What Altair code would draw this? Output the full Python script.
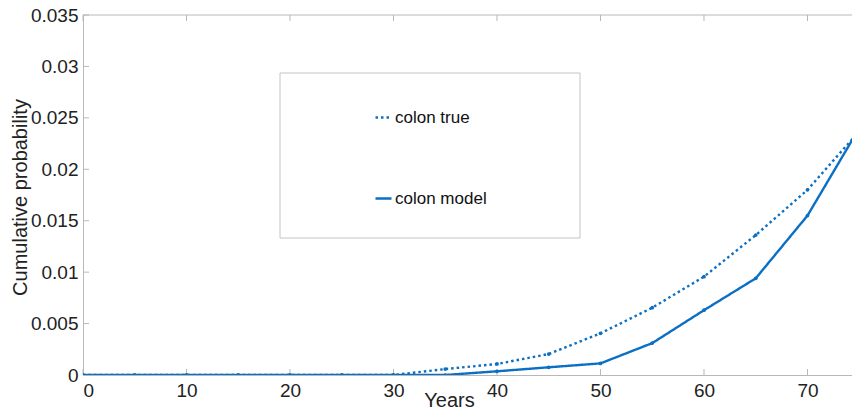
import altair as alt
import pandas as pd

years = [0, 5, 10, 15, 20, 25, 30, 35, 40, 45, 50, 55, 60, 65, 70, 75]
colon_true = [0, 0, 0, 0, 0, 0, 0, 0.00058, 0.00107, 0.00204, 0.00405, 0.00654, 0.00956, 0.0136, 0.018, 0.0237]
colon_model = [0, 0, 0, 0, 0, 0, 0, 0.0, 0.00036, 0.00075, 0.00113, 0.0031, 0.0063, 0.0094, 0.0155, 0.0240]
series_names = ["colon true", "colon model"]
x_ticks = [0, 10, 20, 30, 40, 50, 60, 70]
y_ticks = [0, 0.005, 0.01, 0.015, 0.02, 0.025, 0.03, 0.035]

BLUE = "#0b6fc4"
GRAY = "#b8b8b8"
FONT = "Liberation Sans"
W, H = 769, 360

rows = []
for x, t, m in zip(years, colon_true, colon_model):
    rows.append({"year": x, "p": t, "series": series_names[0]})
    rows.append({"year": x, "p": m, "series": series_names[1]})
df = pd.DataFrame(rows)

xs = alt.Scale(domain=[0, 74.3], nice=False, zero=False)
ys = alt.Scale(domain=[0, 0.035], nice=False)

box = alt.Chart(pd.DataFrame({"a": [0]})).mark_rect(
    fill="white", stroke="#c4c4c4", strokeWidth=1
).encode(x=alt.value(197), x2=alt.value(497), y=alt.value(58), y2=alt.value(223))

lines = alt.Chart(df).mark_line(color=BLUE, strokeWidth=2.4, clip=True, strokeCap="butt").encode(
    x=alt.X("year:Q", scale=xs,
            axis=alt.Axis(values=x_ticks, title="Years", grid=False, ticks=False,
                          labelPadding=6, titleX=366, titleY=25, titleBaseline="middle",
                          titleAlign="center")),
    y=alt.Y("p:Q", scale=ys,
            axis=alt.Axis(values=y_ticks, format="~g", title="Cumulative probability",
                          grid=False, ticks=False, labelPadding=5,
                          titleX=-63, titleY=182, titleAlign="center", titleBaseline="middle")),
    strokeDash=alt.StrokeDash(
        "series:N",
        scale=alt.Scale(domain=series_names, range=[[2.5, 3], [1, 0]]),
        sort=series_names,
        legend=alt.Legend(
            title=None, orient="none", legendX=291, legendY=93,
            symbolType="stroke", symbolSize=256, symbolStrokeWidth=2.4,
            symbolStrokeColor=BLUE, labelFontSize=17, labelFont=FONT,
            labelColor="#111111", rowPadding=63, labelOffset=2,
        ),
    ),
    detail="series:N",
)

points = alt.Chart(df).mark_point(filled=True, color=BLUE, size=14, opacity=1, clip=True).encode(
    x=alt.X("year:Q", scale=xs),
    y=alt.Y("p:Q", scale=ys),
)

xt = pd.DataFrame({"v": x_ticks})
yt = pd.DataFrame({"v": y_ticks})
bottom_ticks = alt.Chart(xt).mark_rule(color=GRAY, strokeWidth=1).encode(
    x=alt.X("v:Q", scale=xs), y=alt.value(H), y2=alt.value(H - 6))
top_ticks = alt.Chart(xt).mark_rule(color=GRAY, strokeWidth=1).encode(
    x=alt.X("v:Q", scale=xs), y=alt.value(0), y2=alt.value(6))
left_ticks = alt.Chart(yt).mark_rule(color=GRAY, strokeWidth=1).encode(
    y=alt.Y("v:Q", scale=ys), x=alt.value(0), x2=alt.value(6))
top_line = alt.Chart(pd.DataFrame({"a": [0]})).mark_rule(color=GRAY, strokeWidth=1).encode(
    x=alt.value(0), x2=alt.value(W), y=alt.value(0))

chart = alt.layer(box, bottom_ticks, top_ticks, left_ticks, top_line, lines, points).properties(
    width=W, height=H,
    autosize=alt.AutoSizeParams(type="none"),
    padding={"left": 83, "top": 15, "right": 0, "bottom": 35},
    background="white",
).configure_view(stroke=None).configure_axis(
    domainColor=GRAY, domainWidth=1, labelFont=FONT, labelFontSize=19, labelColor="#222222",
    titleFont=FONT, titleFontSize=20, titleFontWeight="normal", titleColor="#222222",
)

chart.save("out.html", embed_options={"renderer": "svg", "actions": False})
